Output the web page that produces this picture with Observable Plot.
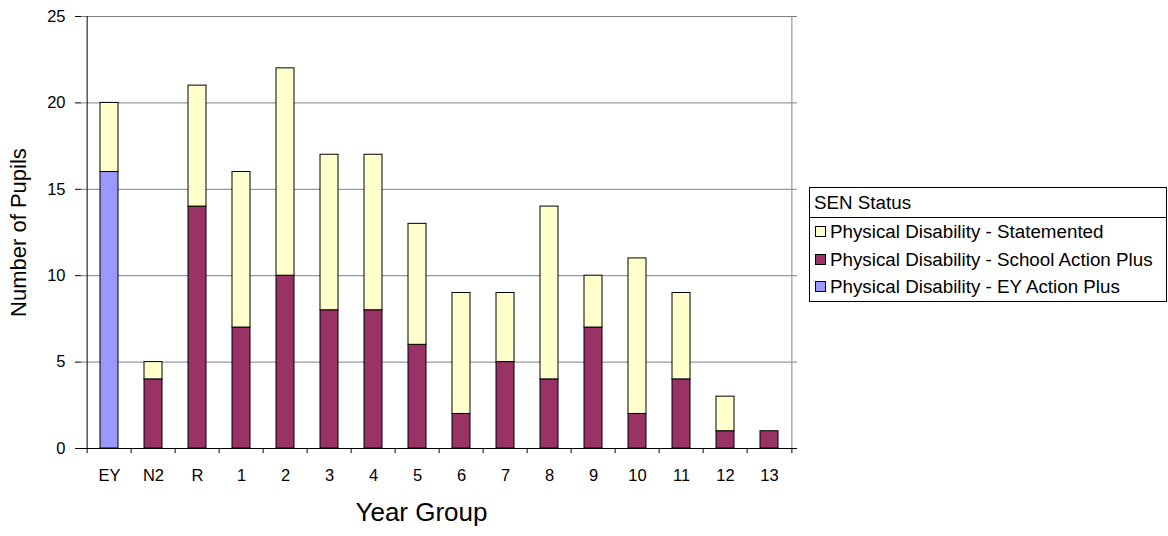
<!DOCTYPE html>
<html>
<head>
<meta charset="utf-8">
<script src="https://cdn.jsdelivr.net/npm/d3@7"></script>
<script src="https://cdn.jsdelivr.net/npm/@observablehq/plot@0.6"></script>
<style>
  html, body { margin: 0; padding: 0; background: #fff; }
  #wrap { position: relative; width: 1168px; height: 536px; font-family: "Liberation Sans", Arial, sans-serif; }
  #legend { position: absolute; left: 809px; top: 187px; width: 356px; border: 1px solid #000; background: #fff; font-size: 18.8px; color: #000; }
  #legend .title { height: 29px; line-height: 29px; padding-left: 4px; border-bottom: 1px solid #000; }
  #legend .item { height: 27.5px; line-height: 27.5px; padding-left: 5px; display: flex; align-items: center; }
  #legend .sw { width: 11px; height: 11px; border: 1px solid #000; margin-right: 4px; box-sizing: border-box; }
</style>
</head>
<body>
<div id="wrap"></div>
<script>
// Year groups along the x axis
const yearGroups = ["EY", "N2", "R", "1", "2", "3", "4", "5", "6", "7", "8", "9", "10", "11", "12", "13"];

// Pupil counts per SEN status (stacked bottom to top)
const eyActionPlus     = [16, 0, 0, 0, 0, 0, 0, 0, 0, 0, 0, 0, 0, 0, 0, 0];
const schoolActionPlus = [0, 4, 14, 7, 10, 8, 8, 6, 2, 5, 4, 7, 2, 4, 1, 1];
const statemented      = [4, 1, 7, 9, 12, 9, 9, 7, 7, 4, 10, 3, 9, 5, 2, 0];

const seriesNames = [
  "Physical Disability - EY Action Plus",
  "Physical Disability - School Action Plus",
  "Physical Disability - Statemented"
];
const seriesColors = ["#9999FF", "#993366", "#FFFFCC"];
const yTicks = [0, 5, 10, 15, 20, 25];

const seriesValues = [eyActionPlus, schoolActionPlus, statemented];
const rows = [];
seriesNames.forEach((name, s) => {
  yearGroups.forEach((g, i) => rows.push({group: g, status: name, count: seriesValues[s][i]}));
});

const W = 1168, H = 536;
const mL = 81, mR = 371, mT = 16, mB = 88;
const step = (W - mL - mR) / yearGroups.length;

const chart = Plot.plot({
  width: W,
  height: H,
  marginLeft: mL,
  marginRight: mR,
  marginTop: mT,
  marginBottom: mB,
  style: {fontFamily: "'Liberation Sans', Arial, sans-serif", color: "#000", background: "#fff"},
  x: {domain: yearGroups, paddingInner: 0.59, paddingOuter: 0.295, axis: null},
  y: {domain: [0, 25], axis: null},
  color: {domain: seriesNames, range: seriesColors},
  marks: [
    // horizontal gridlines and the right border of the plot area
    Plot.ruleY(yTicks.slice(1), {stroke: "#808080", strokeWidth: 1}),
    Plot.ruleX([yearGroups[yearGroups.length - 1]], {y1: 0, y2: 25, dx: step / 2, stroke: "#808080"}),
    // stacked bars
    Plot.barY(rows, {
      x: "group", y: "count", fill: "status",
      order: seriesNames,
      stroke: "#000", strokeWidth: 1
    }),
    // axis lines
    Plot.ruleX([yearGroups[0]], {y1: 0, y2: 25, dx: -step / 2, stroke: "#000"}),
    Plot.ruleY([0], {stroke: "#000"}),
    // x ticks between the year groups
    Plot.ruleX(yearGroups, {y1: 0, y2: -0.3, dx: -step / 2, stroke: "#000"}),
    Plot.ruleX([yearGroups[yearGroups.length - 1]], {y1: 0, y2: -0.3, dx: step / 2, stroke: "#000"}),
    Plot.axisY({ticks: yTicks, tickSize: 6, tickPadding: 10, fontSize: 16.5, label: null, stroke: "#000"}),
    Plot.axisX({tickSize: 0, tickPadding: 21, fontSize: 16.5, label: null}),
    // axis titles
    Plot.text(["Number of Pupils"], {frameAnchor: "left", textAnchor: "middle", lineAnchor: "middle", dx: -63, rotate: -90, fontSize: 22, fill: "#000"}),
    Plot.text(["Year Group"], {frameAnchor: "bottom", textAnchor: "middle", lineAnchor: "middle", dx: -18, dy: 64, fontSize: 26, fill: "#000"})
  ]
});

const wrap = document.getElementById("wrap");
wrap.appendChild(chart);

// legend box: top entry is the top of the stack
const legend = document.createElement("div");
legend.id = "legend";
const title = document.createElement("div");
title.className = "title";
title.textContent = "SEN Status";
legend.appendChild(title);
for (let s = seriesNames.length - 1; s >= 0; s--) {
  const item = document.createElement("div");
  item.className = "item";
  const sw = document.createElement("span");
  sw.className = "sw";
  sw.style.background = seriesColors[s];
  item.appendChild(sw);
  item.appendChild(document.createTextNode(seriesNames[s]));
  legend.appendChild(item);
}
wrap.appendChild(legend);
</script>
</body>
</html>
